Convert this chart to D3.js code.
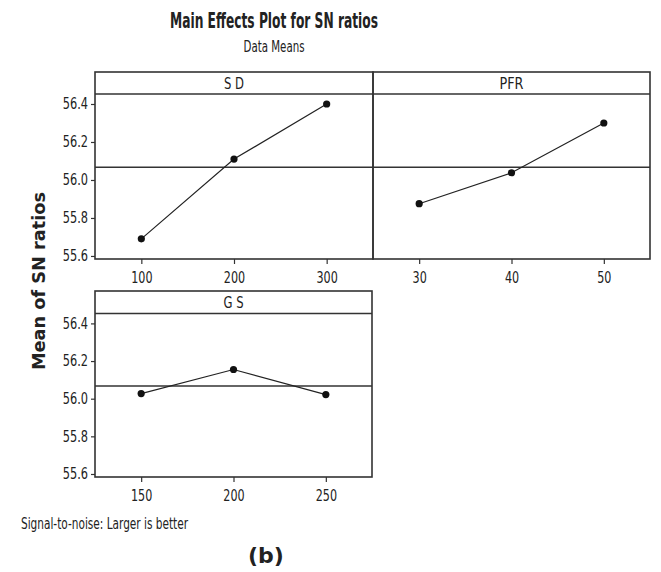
<!DOCTYPE html>
<html>
<head>
<meta charset="utf-8">
<script src="https://cdn.jsdelivr.net/npm/d3@7"></script>
<style>
  body { margin: 0; background: #fff; }
  text { fill: #222; }
  .tick text { font-family: "DejaVu Sans Condensed", sans-serif; font-size: 15px; fill: #222; }
</style>
</head>
<body>
<svg id="chart" width="661" height="572"></svg>
<script>
// chart values
const factors = ["S D", "PFR", "G S"];
const sdLevels = ["100", "200", "300"];
const pfrLevels = ["30", "40", "50"];
const gsLevels = ["150", "200", "250"];
const sdMeans = [55.69, 56.11, 56.40];
const pfrMeans = [55.875, 56.038, 56.30];
const gsMeans = [56.027, 56.155, 56.022];
const yTicks = [55.6, 55.8, 56.0, 56.2, 56.4];
const grandMean = 56.067;

const levels = [sdLevels, pfrLevels, gsLevels];
const means = [sdMeans, pfrMeans, gsMeans];

const svg = d3.select("#chart");
const narrow = "DejaVu Sans Condensed";

// squeeze tick text so glyphs look tall and narrow like the original
function squeeze(sel) {
  sel.attr("textLength", function () {
    const s = this.textContent;
    return s.replace(/[^0-9]/g, "").length * 7.1 + s.replace(/[0-9]/g, "").length * 4;
  }).attr("lengthAdjust", "spacingAndGlyphs");
}

// panel boxes: [left, right, top, stripBottom, bottom]
const boxes = [
  [95, 373, 72, 94, 259],
  [373, 650, 72, 94, 259],
  [95, 372, 291, 313.5, 477]
];
const stripWidths = [20, 24, 20];

svg.append("text")
  .attr("x", 274).attr("y", 28)
  .attr("text-anchor", "middle")
  .attr("textLength", 208).attr("lengthAdjust", "spacingAndGlyphs")
  .style("font-family", narrow).style("font-weight", "bold").style("font-size", "21px")
  .text("Main Effects Plot for SN ratios");

svg.append("text")
  .attr("x", 274).attr("y", 52)
  .attr("text-anchor", "middle")
  .attr("textLength", 61).attr("lengthAdjust", "spacingAndGlyphs")
  .style("font-family", narrow).style("font-size", "15px")
  .text("Data Means");

svg.append("text")
  .attr("transform", "translate(45,281) rotate(-90)")
  .attr("text-anchor", "middle")
  .attr("textLength", 178).attr("lengthAdjust", "spacingAndGlyphs")
  .style("font-family", "DejaVu Sans").style("font-weight", "bold").style("font-size", "17px")
  .text("Mean of SN ratios");

factors.forEach((name, i) => {
  const [x0, x1, top, sb, bottom] = boxes[i];
  const x = d3.scalePoint().domain(levels[i]).range([x0, x1]).padding(0.5);
  const y = d3.scaleLinear().domain([55.584, 56.4526]).range([bottom, sb]);
  const g = svg.append("g");

  // strip + frame
  g.append("rect").attr("x", x0).attr("y", top).attr("width", x1 - x0).attr("height", bottom - top)
    .attr("fill", "none").attr("stroke", "#333").attr("stroke-width", 1.6);
  g.append("line").attr("x1", x0).attr("x2", x1).attr("y1", sb).attr("y2", sb)
    .attr("stroke", "#333").attr("stroke-width", 1.6);
  g.append("text")
    .attr("x", (x0 + x1) / 2).attr("y", top + 17)
    .attr("text-anchor", "middle")
    .attr("textLength", stripWidths[i]).attr("lengthAdjust", "spacingAndGlyphs")
    .style("font-family", narrow).style("font-size", "15px")
    .text(name);

  // reference line at overall mean
  g.append("line").attr("x1", x0).attr("x2", x1).attr("y1", y(grandMean)).attr("y2", y(grandMean))
    .attr("stroke", "#333").attr("stroke-width", 1.5);

  // x axis
  const xa = g.append("g").attr("transform", `translate(0,${bottom})`)
    .call(d3.axisBottom(x).tickSize(5).tickPadding(8));
  xa.select(".domain").remove();
  xa.selectAll(".tick line").attr("stroke", "#333").attr("stroke-width", 1.2);
  xa.selectAll(".tick text").call(squeeze);

  // y axis only on left column
  if (i !== 1) {
    const ya = g.append("g").attr("transform", `translate(${x0},0)`)
      .call(d3.axisLeft(y).tickValues(yTicks).tickFormat(d3.format(".1f")).tickSize(4).tickPadding(3));
    ya.select(".domain").remove();
    ya.selectAll(".tick line").attr("stroke", "#333").attr("stroke-width", 1.2);
    ya.selectAll(".tick text").call(squeeze);
  }

  const pts = levels[i].map((lv, k) => [x(lv), y(means[i][k])]);
  g.append("path").attr("d", d3.line()(pts))
    .attr("fill", "none").attr("stroke", "#222").attr("stroke-width", 1.2);
  g.selectAll("circle").data(pts).join("circle")
    .attr("cx", d => d[0]).attr("cy", d => d[1]).attr("r", 3.6).attr("fill", "#111");
});

svg.append("text")
  .attr("x", 21).attr("y", 529)
  .attr("textLength", 167).attr("lengthAdjust", "spacingAndGlyphs")
  .style("font-family", narrow).style("font-size", "15px")
  .text("Signal-to-noise: Larger is better");

svg.append("text")
  .attr("x", 266).attr("y", 563)
  .attr("text-anchor", "middle")
  .style("font-family", "DejaVu Sans").style("font-weight", "bold").style("font-size", "22px")
  .text("(b)");
</script>
</body>
</html>
